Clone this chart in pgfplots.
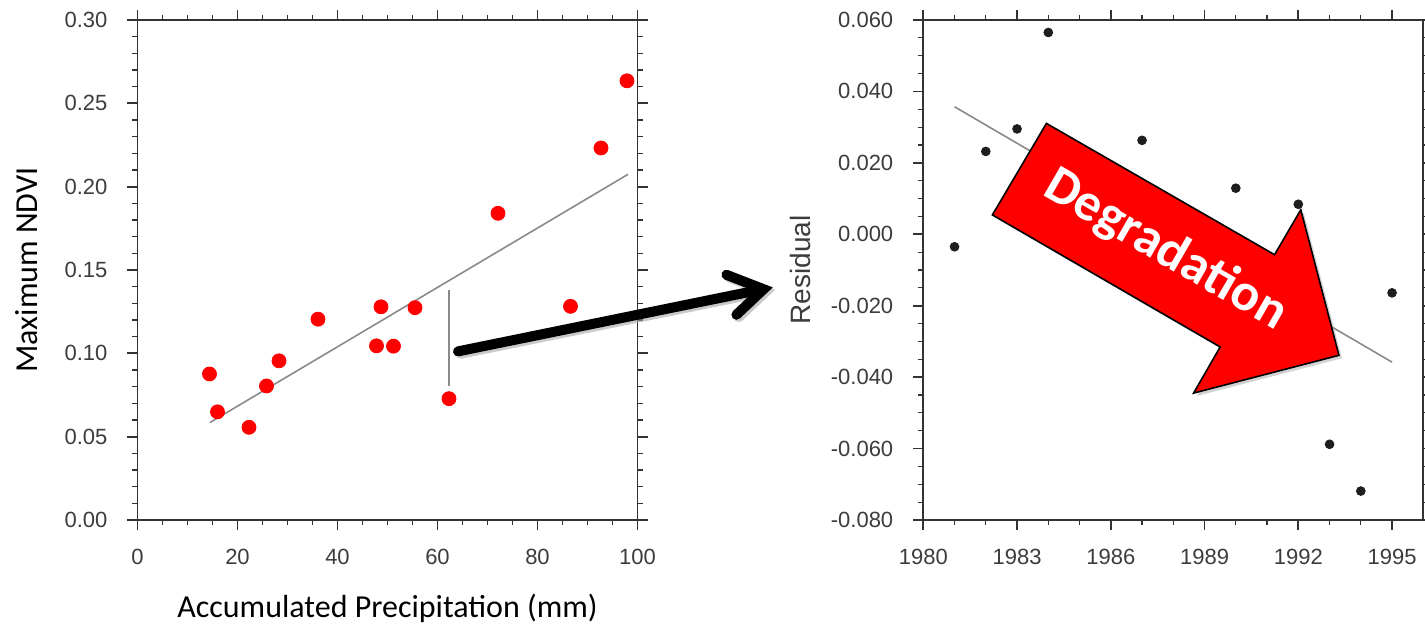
\documentclass[border=0pt]{standalone}
\usepackage{pgfplots}
\pgfplotsset{compat=1.18}
\usepackage{fontspec}
\setmainfont{Liberation Sans}
\newfontfamily\carlito{Carlito}
\usetikzlibrary{shadows}
\definecolor{axgray}{HTML}{333333}
\definecolor{labgray}{HTML}{3C3C3C}
\definecolor{fitgray}{HTML}{8A8A8A}
\definecolor{dotblack}{HTML}{1E1E1E}
\pgfplotsset{
  myaxis/.style={
    scale only axis, width=250pt, height=250pt, anchor=south west,
    axis line style={axgray, line width=0.9pt},
    tick align=outside,
    major tick length=5pt, minor tick length=2.6pt,
    major tick style={axgray, line width=0.9pt},
    minor tick style={axgray, line width=0.6pt},
    tick label style={font=\fontsize{11}{13}\selectfont, text=labgray},
    xticklabel style={yshift=-6pt},
    yticklabel style={xshift=-6.5pt},
    scaled ticks=false,
    /pgf/number format/assume math mode=true,
    clip=false,
  }
}
\pgfplotstableread{
x y
14.4 0.0876
16.0 0.0649
22.3 0.0556
25.8 0.0804
28.3 0.0955
36.1 0.1205
47.8 0.1045
48.7 0.1279
51.2 0.1043
55.5 0.1274
62.3 0.0728
72.1 0.1840
86.6 0.1282
92.7 0.2232
97.9 0.2635
}\ndvidata
\pgfplotstableread{
x y
1981 -0.0035
1982 0.0232
1983 0.0295
1984 0.0565
1987 0.0263
1990 0.0129
1992 0.0084
1993 -0.0588
1994 -0.0719
1995 -0.0164
}\resdata
\begin{document}
\begin{tikzpicture}[x=1pt,y=1pt]
\begin{axis}[myaxis, at={(68.75pt,52pt)},
  xmin=0, xmax=100, ymin=0, ymax=0.30,
  xtick={0,20,40,60,80,100}, minor x tick num=3,
  ytick={0,0.05,0.10,0.15,0.20,0.25,0.30}, minor y tick num=4,
  yticklabel style={/pgf/number format/fixed, /pgf/number format/fixed zerofill, /pgf/number format/precision=2},
  xlabel={Accumulated Precipitation (mm)}, ylabel={Maximum NDVI},
  label style={font=\carlito\fontsize{16}{19}\selectfont, text=black},
  xlabel style={at={(axis description cs:0.5,-0.176)}, anchor=center},
  ylabel style={at={(axis description cs:-0.222,0.5)}, anchor=center},
]
\addplot[fitgray, line width=0.8pt] coordinates {(14.5,0.0585) (98.1,0.2074)};
\addplot[fitgray, line width=0.8pt] coordinates {(62.3,0.0804) (62.3,0.1382)};
\addplot[only marks, mark=*, mark size=3.5pt, mark options={fill=red, draw=red}] table[x=x,y=y] {\ndvidata};
\end{axis}
\begin{axis}[myaxis, at={(461.65pt,52pt)},
  xmin=1980, xmax=1996, ymin=-0.08, ymax=0.06,
  xtick={1980,1983,1986,1989,1992,1995}, minor x tick num=2,
  ytick={-0.08,-0.06,-0.04,-0.02,0,0.02,0.04,0.06}, minor y tick num=3,
  xticklabel style={/pgf/number format/1000 sep={}},
  yticklabel style={/pgf/number format/fixed, /pgf/number format/fixed zerofill, /pgf/number format/precision=3},
  ylabel={Residual},
  ylabel style={at={(axis description cs:-0.2466,0.5)}, anchor=center, font=\fontsize{14}{17}\selectfont, text=labgray},
]
\addplot[fitgray, line width=0.8pt] coordinates {(1981,0.0357) (1995,-0.0358)};
\addplot[only marks, mark=*, mark size=2.2pt, mark options={fill=dotblack, draw=dotblack}] table[x=x,y=y] {\resdata};
\draw[fill=red, draw=black, line width=0.8pt, line join=miter,
  drop shadow={opacity=0.35, shadow xshift=1.5pt, shadow yshift=-1.5pt}]
  (axis cs:1983.94,0.03104) -- (axis cs:1991.24,-0.00571) -- (axis cs:1992.08,0.00687)
  -- (axis cs:1993.30,-0.03389) -- (axis cs:1988.65,-0.04447) -- (axis cs:1989.50,-0.03155)
  -- (axis cs:1982.21,0.00542) -- cycle;
\node[rotate=-30, text=white, font=\carlito\bfseries\fontsize{26.5}{30}\selectfont, inner sep=0pt]
  at (axis cs:1987.75,-0.0045) {Degradation};
\end{axis}
% black arrow
\begin{scope}[line width=5pt, line cap=round]
  \draw[black!35, opacity=0.6, shift={(1.2pt,-1.2pt)}] (229,136.3) -- (379,166.9);
  \draw[black!35, opacity=0.6, shift={(1.2pt,-1.2pt)}, line join=miter] (363.2,174.6) -- (381.8,167.4) -- (368.2,154.6);
  \draw[black] (229,136.3) -- (379,166.9);
  \draw[black, line join=miter] (363.2,174.6) -- (381.8,167.4) -- (368.2,154.6);
\end{scope}
\pgfresetboundingbox
\path[use as bounding box] (0,0) rectangle (712.5,312);
\end{tikzpicture}
\end{document}
